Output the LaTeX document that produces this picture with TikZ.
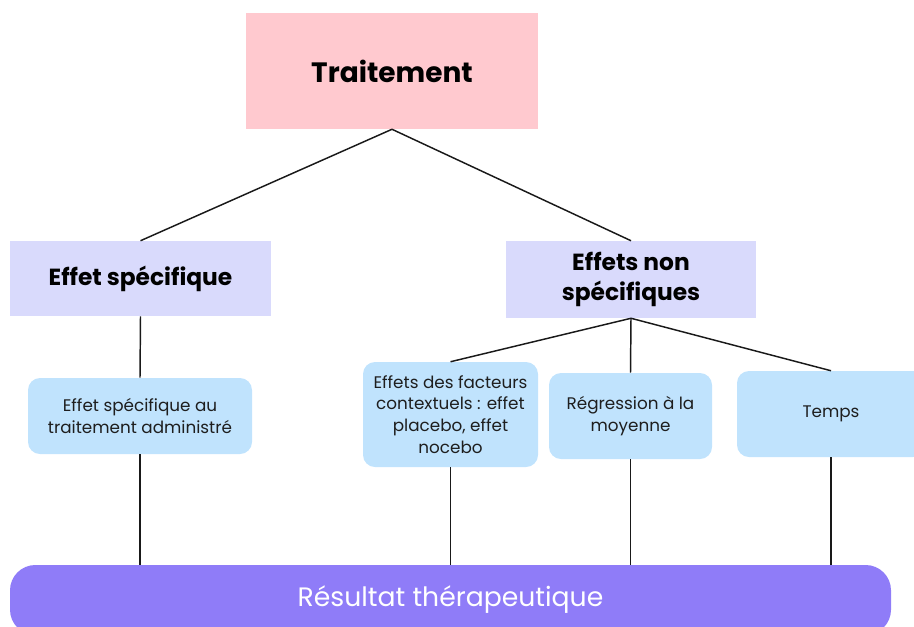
\documentclass[tikz,border=0pt]{standalone}
\usepackage{fontspec}
\setmainfont{Poppins}
\usepackage{xcolor}
\usepackage{tikz}

\definecolor{pinkbox}{RGB}{255,201,207}
\definecolor{lavbox}{RGB}{217,218,252}
\definecolor{bluebox}{RGB}{192,227,253}
\definecolor{purplebar}{RGB}{143,124,248}
\definecolor{inkdark}{RGB}{30,30,30}

\tikzset{
  topbox/.style={fill=pinkbox, inner sep=0pt, minimum width=219pt, minimum height=87pt, font=\fontsize{21}{25}\selectfont\bfseries, text=black},
  midbox/.style={fill=lavbox, inner sep=0pt, align=center, font=\fontsize{17.5}{22}\selectfont\bfseries, text=black},
  leafbox/.style={fill=bluebox, rounded corners=9pt, inner sep=0pt, align=center, font=\fontsize{12.6}{16.3}\selectfont, text=inkdark},
  resultbar/.style={fill=purplebar, rounded corners=19pt, inner sep=0pt, minimum width=660.75pt, minimum height=52.5pt, font=\fontsize{20}{24}\selectfont, text=white},
  link/.style={draw=black!90, line width=1.1pt}
}

\begin{document}
\begin{tikzpicture}[x=0.75pt,y=0.75pt,yscale=-1,xscale=1]
\path[use as bounding box] (0,0) rectangle (914,626);

% Top Node
\node[topbox] (trait) at (392,71) {Traitement};
% Middle Nodes
\node[midbox, minimum width=195.75pt, minimum height=56.25pt] (spec) at (140.5,278.5) {Effet spécifique};
\node[midbox, minimum width=187.5pt, minimum height=57.75pt] (nonspec) at (631,279.5) {Effets non\\spécifiques};
% Leaf Nodes
\node[leafbox, minimum width=168pt, minimum height=57pt] (admin) at (140,416) {Effet spécifique au\\traitement administré};
\node[leafbox, minimum width=131.25pt, minimum height=78.75pt] (ctx) at (450.5,414.5) {Effets des facteurs\\contextuels : effet\\placebo, effet\\nocebo};
\node[leafbox, minimum width=122.25pt, minimum height=64.5pt] (regr) at (630.5,416) {Régression à la\\moyenne};
\node[leafbox, minimum width=141pt, minimum height=64.5pt] (temps) at (831,414) {Temps};
% Bottom Bar
\node[resultbar] (result) at (450.5,600) {Résultat thérapeutique};

%Straight Lines
\draw[link] (trait.south) -- (spec.north);
\draw[link] (trait.south) -- (nonspec.north);
\draw[link] (spec.south) -- (admin.north);
\draw[link] (nonspec.south) -- (ctx.north);
\draw[link] (nonspec.south) -- (regr.north);
\draw[link] (nonspec.south) -- (temps.north);
\draw[link] (admin.south) -- (admin.south |- result.north);
\draw[link] (ctx.south) -- (ctx.south |- result.north);
\draw[link] (regr.south) -- (regr.south |- result.north);
\draw[link] (temps.south) -- (temps.south |- result.north);

\end{tikzpicture}
\end{document}
